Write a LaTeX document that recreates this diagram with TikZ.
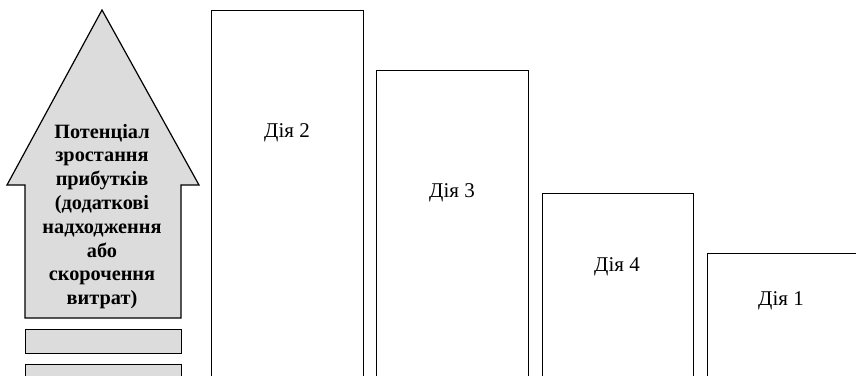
\documentclass[tikz,border=0pt]{standalone}
\usepackage{fontspec}
\setmainfont{Liberation Serif}
\usetikzlibrary{positioning}
\definecolor{Ink}{HTML}{000000}
\definecolor{Shade}{HTML}{DCDCDC}
\tikzset{
    actbox/.style={rectangle, draw=Ink, line width=1.2pt, fill=white, anchor=north west, minimum width=152pt, minimum height=400pt, inner sep=0pt},
    acttext/.style={font=\fontsize{21}{24}\selectfont, text=Ink, anchor=base},
    bar/.style={rectangle, draw=Ink, line width=1.2pt, fill=Shade, anchor=north west, minimum width=156pt, inner sep=0pt},
}

\begin{document}
\begin{tikzpicture}[
        x=1pt, y=-1pt,
        % Stile per la freccia grande
        growth/.style={draw=Ink, line width=1.2pt, fill=Shade, line join=miter},
        note/.style={font=\bfseries\fontsize{20.3}{23.8}\selectfont, align=center, text=Ink}
    ]
        \useasboundingbox (0,0) rectangle (856,375);
        \clip (0,0) rectangle (856,375);

        % 1. La freccia con il testo
        \draw[growth] (102,10) -- (199,185) -- (181,185) -- (181,318)
            -- (25,318) -- (25,185) -- (7,185) -- cycle;
        \node[note] (potential) at (102,216.5)
            {Потенціал\\зростання\\прибутків\\(додаткові\\надходження\\або\\скорочення\\витрат)};

        % Barre sotto la freccia
        \node[bar, minimum height=24pt] (bar_a) at (25,329) {};
        \node[bar, minimum height=40pt] (bar_b) at (25,364) {};

        % 2. Le azioni (colonne a gradini)
        \node[actbox] (box2) at (211,10) {};
        \node[actbox] (box3) at (376,70) {};
        \node[actbox, minimum width=151pt] (box4) at (542,193) {};
        \node[actbox, minimum width=170pt] (box1) at (707,253) {};

        % Etichette delle azioni
        \node[acttext] (act2) at (287,137) {Дія 2};
        \node[acttext] (act3) at (452,197.5) {Дія 3};
        \node[acttext] (act4) at (617,271.5) {Дія 4};
        \node[acttext] (act1) at (781,305) {Дія 1};

    \end{tikzpicture}
\end{document}
